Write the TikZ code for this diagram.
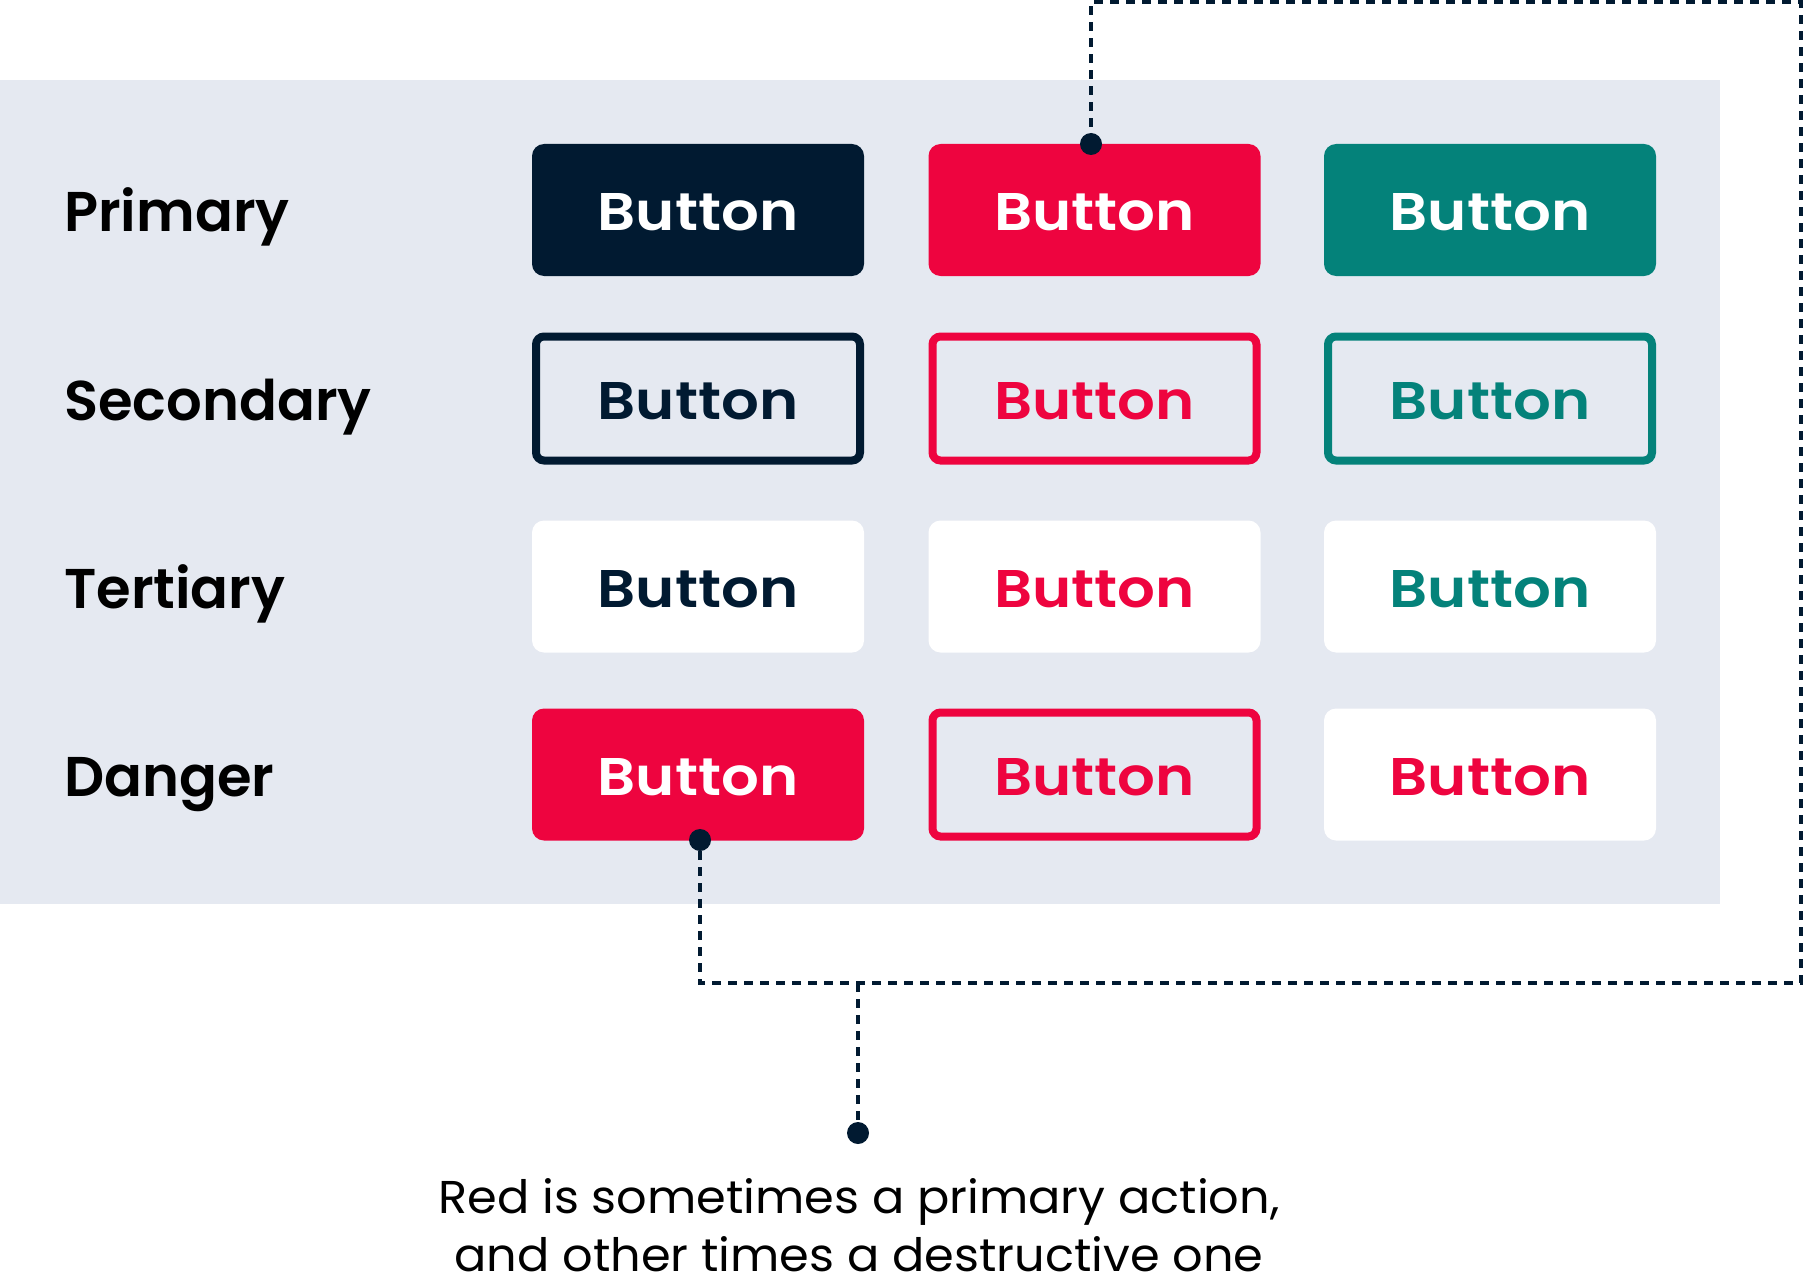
\documentclass[tikz,border=0pt]{standalone}
\usepackage{fontspec}
\setmainfont{Poppins}[BoldFont={Poppins SemiBold}]
\newfontfamily\btnfont{Poppins SemiBold}[FakeStretch=1.12]
\newfontfamily\notefont{Poppins}[FakeStretch=1.04]
\definecolor{navy}{HTML}{011A31}
\definecolor{crim}{HTML}{EE043F}
\definecolor{teal}{HTML}{04827A}
\definecolor{panel}{HTML}{E5E9F1}
\begin{document}
\begin{tikzpicture}[x=1pt,y=-1pt,
  btnfill/.style={rounded corners=12pt, minimum width=332pt, minimum height=132pt, inner sep=0pt,
    text height=41pt, text depth=0pt, font=\fontsize{53}{60}\btnfont},
  btnline/.style={rounded corners=8pt, line width=8pt, minimum width=324pt, minimum height=124pt, inner sep=0pt,
    text height=41pt, text depth=0pt, font=\fontsize{53}{60}\btnfont},
  lbl/.style={anchor=base west, inner sep=0pt, text=black, font=\fontsize{56}{64}\selectfont\bfseries},
  note/.style={anchor=base, inner sep=0pt, text=black, font=\fontsize{46}{58}\notefont},
  leader/.style={draw=navy, line width=4pt, dash pattern=on 9pt off 7pt},
  pin/.style={circle, fill=navy, minimum size=22pt, inner sep=0pt}]
\useasboundingbox (0,0) rectangle (1804,1284);
\fill[white] (0,0) rectangle (1804,1284);
\fill[panel] (0,80) rectangle (1720,904);
% labels
\node[lbl] (l1) at (64,232) {Primary};
\node[lbl] (l2) at (64,420.5) {Secondary};
\node[lbl] (l3) at (64,608.5) {Tertiary};
\node[lbl] (l4) at (64,796.5) {Danger};
% row 1
\node[btnfill, fill=navy, text=white] (b11) at (698,210) {Button};
\node[btnfill, fill=crim, text=white] (b12) at (1094.5,210) {Button};
\node[btnfill, fill=teal, text=white] (b13) at (1490,210) {Button};
% row 2
\node[btnline, draw=navy, text=navy] (b21) at (698,398.5) {Button};
\node[btnline, draw=crim, text=crim] (b22) at (1094.5,398.5) {Button};
\node[btnline, draw=teal, text=teal] (b23) at (1490,398.5) {Button};
% row 3
\node[btnfill, fill=white, text=navy] (b31) at (698,586.5) {Button};
\node[btnfill, fill=white, text=crim] (b32) at (1094.5,586.5) {Button};
\node[btnfill, fill=white, text=teal] (b33) at (1490,586.5) {Button};
% row 4
\node[btnfill, fill=crim, text=white] (b41) at (698,774.5) {Button};
\node[btnline, draw=crim, text=crim] (b42) at (1094.5,774.5) {Button};
\node[btnfill, fill=white, text=crim] (b43) at (1490,774.5) {Button};
% leaders
\coordinate (cbl) at (700,983);
\coordinate (cbr) at (1801,983);
\coordinate (ctr) at (1801,2);
\coordinate (ctl) at (1091,2);
\coordinate (jn) at (858,983);
\node[pin] (pa) at (1091,144) {};
\node[pin] (pb) at (700,840) {};
\node[pin] (pc) at (858,1133) {};
\draw[leader] (pb) -- (cbl) -- (cbr) -- (ctr) -- (ctl) -- (pa);
\draw[leader] (jn) -- (pc);
% note
\node[note] (n1) at (859,1213) {Red is sometimes a primary action,};
\node[note] (n2) at (859,1271) {and other times a destructive one};
\end{tikzpicture}
\end{document}
